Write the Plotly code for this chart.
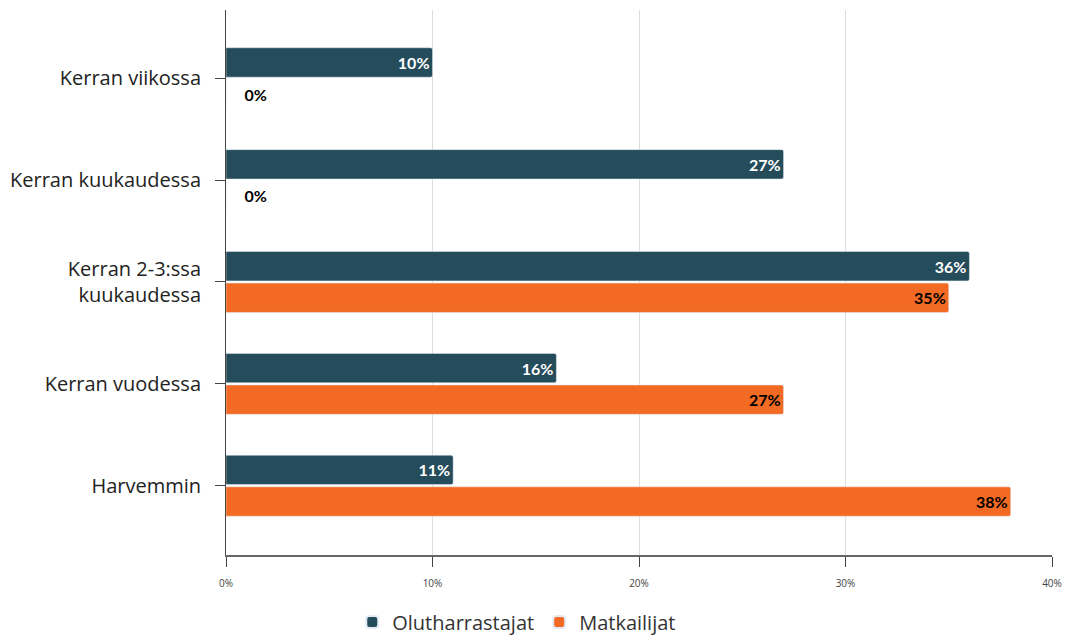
import plotly.graph_objects as go

categories = ["Kerran viikossa", "Kerran kuukaudessa", "Kerran 2-3:ssa<br>kuukaudessa",
              "Kerran vuodessa", "Harvemmin"]
olut = [10, 27, 36, 16, 11]
matka = [0, 0, 35, 27, 38]
series_names = ["Olutharrastajat", "Matkailijat"]
tick_vals = [0, 10, 20, 30, 40]
tick_text = ["0%", "10%", "20%", "30%", "40%"]

DARK = "#244C5A"
ORANGE = "#F26A23"

def positions(vals):
    return ["outside" if v == 0 else "inside" for v in vals]

def labels(vals):
    return [("    %d%%" % v) if v == 0 else ("%d%%" % v) for v in vals]

LABEL_FONT = "Lato"

fig = go.Figure()
fig.add_trace(go.Bar(
    y=categories, x=olut, name=series_names[0], orientation="h",
    marker=dict(color=DARK, cornerradius=2),
    text=labels(olut), textposition=positions(olut), insidetextanchor="end",
    insidetextfont=dict(color="white", size=16, family=LABEL_FONT, weight="bold"),
    outsidetextfont=dict(color="black", size=16, family=LABEL_FONT, weight="bold"),
    cliponaxis=False, hoverinfo="skip",
))
fig.add_trace(go.Bar(
    y=categories, x=matka, name=series_names[1], orientation="h",
    marker=dict(color=ORANGE, cornerradius=2),
    text=labels(matka), textposition=positions(matka), insidetextanchor="end",
    insidetextfont=dict(color="black", size=16, family=LABEL_FONT, weight="bold"),
    outsidetextfont=dict(color="black", size=16, family=LABEL_FONT, weight="bold"),
    cliponaxis=False, hoverinfo="skip",
))

fig.update_layout(
    width=1073, height=637,
    margin=dict(l=226, r=21, t=10, b=82, autoexpand=False),
    paper_bgcolor="white", plot_bgcolor="white",
    barmode="group", bargap=0.38, bargroupgap=0.07,
    font=dict(family="Open Sans", color="#333333"),
    showlegend=True,
    legend=dict(orientation="h", x=0.352, xanchor="center", y=-0.123, yanchor="middle",
                font=dict(size=20, family="Open Sans", color="#333333"),
                itemsizing="constant", traceorder="normal", itemwidth=30),
    xaxis=dict(range=[0, 40], tickvals=tick_vals, ticktext=tick_text,
               showgrid=True, gridcolor="#DDDDDD", gridwidth=1,
               showline=True, linecolor="#666666", linewidth=2,
               ticks="outside", ticklen=10, tickcolor="#444444",
               ticklabelstandoff=8,
               tickfont=dict(size=10, family="Open Sans", color="#444444"),
               zeroline=False, fixedrange=True),
    yaxis=dict(type="category", categoryorder="array", categoryarray=categories,
               range=[4.68, -0.67],
               showline=True, linecolor="#444444", linewidth=1,
               ticks="outside", ticklen=10, tickcolor="#444444",
               ticklabelstandoff=10,
               tickfont=dict(size=20, family="Open Sans", color="#222222"),
               showgrid=False, fixedrange=True),
)

fig.write_html("out.html")
